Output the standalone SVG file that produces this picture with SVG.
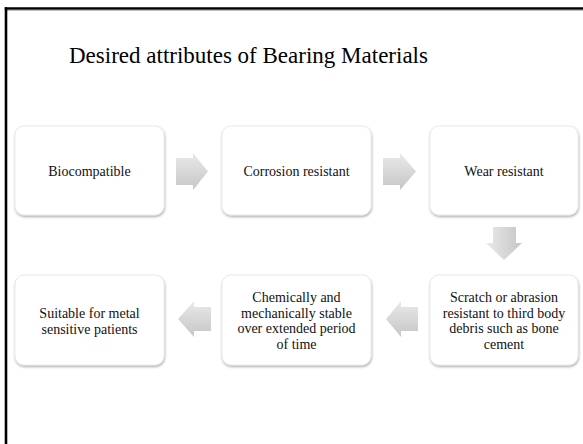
<svg xmlns="http://www.w3.org/2000/svg" width="583" height="444" viewBox="0 0 583 444">
<style>
.box{fill:#ffffff;stroke:#e4e4e4;stroke-width:0.8;filter:url(#sh)}
.t{font-family:"Liberation Serif","Times New Roman",serif;font-size:14px;fill:#111;text-anchor:middle}
.title{font-family:"Liberation Serif","Times New Roman",serif;font-size:23px;fill:#000}
.arr{fill:url(#g)}
.arrv{fill:url(#gv)}
</style>
<defs>
<filter id="sh" x="-10%" y="-10%" width="120%" height="130%">
<feDropShadow dx="0.5" dy="1.5" stdDeviation="1.2" flood-color="#000" flood-opacity="0.35"/>
</filter>
<linearGradient id="g" x1="0" y1="0" x2="0" y2="1">
<stop offset="0" stop-color="#e9e9e9"/>
<stop offset="1" stop-color="#c6c6c6"/>
</linearGradient>
<linearGradient id="gv" x1="0" y1="0" x2="1" y2="0">
<stop offset="0" stop-color="#e9e9e9"/>
<stop offset="1" stop-color="#c6c6c6"/>
</linearGradient>
</defs>
<rect width="583" height="444" fill="#ffffff"/>
<line x1="4.8" y1="8.5" x2="583" y2="8.5" stroke="#000" stroke-width="2.6"/>
<line x1="5" y1="10.2" x2="583" y2="10.2" stroke="#888" stroke-width="0.8"/>
<line x1="6" y1="7.2" x2="6" y2="444" stroke="#000" stroke-width="2.6"/>
<text class="title" x="69" y="63">Desired attributes of Bearing Materials</text>
<g id="connectors">
<path class="arr" d="M176,158 H193 V153 L208,171.5 L193,190 V185 H176 Z"/>
<path class="arr" d="M383,158 H400 V153 L416,171.5 L400,190 V185 H383 Z"/>
<path class="arrv" d="M493,227 H516 V243 H522 L504,260 L486,243 H493 Z"/>
<path class="arr" d="M418,307 H401 V301 L386,319 L401,337 V331 H418 Z"/>
<path class="arr" d="M211,307 H194 V301 L178,319 L194,337 V331 H211 Z"/>
</g>
<g id="n1">
<rect class="box" x="15" y="126" width="149" height="89" rx="9"/>
<text class="t" x="89.5" y="176">Biocompatible</text>
</g>
<g id="n2">
<rect class="box" x="222" y="126" width="149" height="89" rx="9"/>
<text class="t" x="296.5" y="176">Corrosion resistant</text>
</g>
<g id="n3">
<rect class="box" x="430" y="126" width="148" height="89" rx="9"/>
<text class="t" x="504" y="176">Wear resistant</text>
</g>
<g id="n4">
<rect class="box" x="430" y="275" width="148" height="90" rx="9"/>
<text class="t" x="504" y="302">Scratch or abrasion</text>
<text class="t" x="504" y="317.5">resistant to third body</text>
<text class="t" x="504" y="333">debris such as bone</text>
<text class="t" x="504" y="348.5">cement</text>
</g>
<g id="n5">
<rect class="box" x="222" y="275" width="149" height="90" rx="9"/>
<text class="t" x="296.5" y="302">Chemically and</text>
<text class="t" x="296.5" y="317.5">mechanically stable</text>
<text class="t" x="296.5" y="333">over extended period</text>
<text class="t" x="296.5" y="348.5">of time</text>
</g>
<g id="n6">
<rect class="box" x="15" y="275" width="149" height="90" rx="9"/>
<text class="t" x="89.5" y="318">Suitable for metal</text>
<text class="t" x="89.5" y="333.5">sensitive patients</text>
</g>
</svg>
